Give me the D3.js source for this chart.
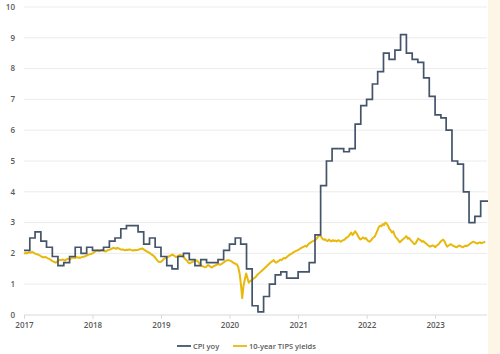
<!DOCTYPE html>
<html>
<head>
<meta charset="utf-8">
<script src="https://cdn.jsdelivr.net/npm/d3@7"></script>
<style>
  html, body { margin: 0; padding: 0; background: #ffffff; }
  svg { display: block; }
</style>
</head>
<body>
<svg id="chart" width="500" height="354"></svg>
<script>
// ---------- DATA ----------
const yTicks = [0, 1, 2, 3, 4, 5, 6, 7, 8, 9, 10];
const xTickYears = [2017, 2018, 2019, 2020, 2021, 2022, 2023];
const seriesNames = ["CPI yoy", "10-year TIPS yields"];

// CPI yoy, monthly reference months Dec 2016 .. Aug 2023
const cpiStart = "2016-12";
const cpiValues = [
  2.1,
  2.5, 2.7, 2.4, 2.2, 1.9, 1.6, 1.7, 1.9, 2.2, 2.0, 2.2, 2.1,
  2.1, 2.2, 2.4, 2.5, 2.8, 2.9, 2.9, 2.7, 2.3, 2.5, 2.2, 1.9,
  1.6, 1.5, 1.9, 2.0, 1.8, 1.6, 1.8, 1.7, 1.7, 1.8, 2.1, 2.3,
  2.5, 2.3, 1.5, 0.3, 0.1, 0.6, 1.0, 1.3, 1.4, 1.2, 1.2, 1.4,
  1.4, 1.7, 2.6, 4.2, 5.0, 5.4, 5.4, 5.3, 5.4, 6.2, 6.8, 7.0,
  7.5, 7.9, 8.5, 8.3, 8.6, 9.1, 8.5, 8.3, 8.2, 7.7, 7.1, 6.5,
  6.4, 6.0, 5.0, 4.9, 4.0, 3.0, 3.2, 3.7
];

// 10-year TIPS yields line, weekly readings starting 2017-01-02
const tipsStart = "2017-01-02";
const tipsValues = [
  // 2017
  1.98, 2.02, 2.00, 2.03,  2.04, 2.02, 2.05, 2.03,  2.00, 1.98, 1.97, 1.95, 1.93,
  1.90, 1.88, 1.87, 1.89,  1.86, 1.84, 1.82, 1.80,  1.76, 1.74, 1.72, 1.70,
  1.73, 1.77, 1.79, 1.78, 1.80,  1.79, 1.77, 1.80, 1.82,  1.83, 1.81, 1.85, 1.86,
  1.87, 1.85, 1.88, 1.86, 1.87,  1.86, 1.88, 1.89, 1.90,  1.92, 1.94, 1.96, 1.97, 1.98,
  // 2018
  2.00, 2.03, 2.06, 2.08,  2.10, 2.07, 2.09, 2.11,  2.10, 2.08, 2.06, 2.09, 2.11,
  2.12, 2.14, 2.16, 2.18,  2.17, 2.15, 2.18, 2.16,  2.14, 2.12, 2.13, 2.11,
  2.10, 2.12, 2.11, 2.13, 2.12,  2.10, 2.09, 2.11, 2.10,  2.11, 2.12, 2.14, 2.15,
  2.16, 2.13, 2.10, 2.07, 2.05,  2.03, 2.00, 1.96, 1.94,  1.90, 1.85, 1.79, 1.74, 1.72,
  // 2019
  1.72, 1.76, 1.80, 1.84,  1.86, 1.88, 1.90, 1.92,  1.94, 1.96, 1.93, 1.90, 1.88,
  1.91, 1.94, 1.95, 1.93,  1.90, 1.85, 1.80, 1.76,  1.70, 1.68, 1.70, 1.72,
  1.74, 1.76, 1.78, 1.75, 1.70,  1.64, 1.60, 1.58, 1.56,  1.55, 1.58, 1.62, 1.60,
  1.56, 1.54, 1.58, 1.60, 1.62,  1.64, 1.66, 1.63, 1.65,  1.68, 1.71, 1.74, 1.77, 1.78,
  // 2020
  1.78, 1.76, 1.74, 1.70,  1.68, 1.66, 1.64, 1.55,  1.35, 1.00, 0.55, 0.95, 1.15,
  1.35, 1.20, 1.05, 1.10,  1.12, 1.16, 1.20, 1.22,  1.28, 1.32, 1.36, 1.40,
  1.44, 1.48, 1.52, 1.56, 1.60,  1.64, 1.68, 1.72, 1.75,  1.78, 1.72, 1.70, 1.74,
  1.76, 1.80, 1.78, 1.83, 1.85,  1.84, 1.88, 1.92, 1.95,  1.98, 2.00, 2.04, 2.06, 2.08,
  // 2021
  2.10, 2.12, 2.15, 2.18,  2.20, 2.22, 2.25, 2.22,  2.28, 2.32, 2.35, 2.38, 2.40,
  2.42, 2.45, 2.50, 2.55,  2.60, 2.55, 2.48, 2.44,  2.46, 2.42, 2.40, 2.45,
  2.41, 2.39, 2.43, 2.40, 2.42,  2.39, 2.43, 2.41, 2.38,  2.41, 2.43, 2.45, 2.50,
  2.52, 2.56, 2.62, 2.68, 2.60,  2.65, 2.72, 2.66, 2.58,  2.50, 2.45, 2.48, 2.52, 2.48,
  // 2022
  2.50, 2.45, 2.40, 2.38,  2.42, 2.48, 2.52, 2.55,  2.65, 2.75, 2.85, 2.90, 2.88,
  2.95, 2.92, 3.00, 2.97,  2.90, 2.80, 2.75, 2.68,  2.72, 2.60, 2.52, 2.48,
  2.42, 2.36, 2.40, 2.44, 2.48,  2.52, 2.56, 2.48, 2.50,  2.45, 2.40, 2.35, 2.30,
  2.32, 2.40, 2.48, 2.45, 2.42,  2.38, 2.40, 2.35, 2.32,  2.28, 2.25, 2.22, 2.24, 2.26,
  // 2023
  2.24, 2.20, 2.25, 2.28,  2.32, 2.38, 2.42, 2.45,  2.40, 2.30, 2.22, 2.25, 2.28,
  2.30, 2.26, 2.24, 2.22,  2.20, 2.22, 2.26, 2.24,  2.22, 2.20, 2.23, 2.25,
  2.24, 2.26, 2.30, 2.33, 2.36,  2.38, 2.36, 2.34, 2.32,  2.34, 2.36, 2.33, 2.35,
  2.36, 2.38
];

// ---------- BUILD ----------
const parseMonth = d3.timeParse("%Y-%m");
const parseDay = d3.timeParse("%Y-%m-%d");

const cpiData = cpiValues.map((v, i) => ({
  date: d3.timeMonth.offset(parseMonth(cpiStart), i + 1),
  value: v
}));
const tipsData = tipsValues.map((v, i) => ({
  date: d3.timeDay.offset(parseDay(tipsStart), 7 * i),
  value: v
}));

const xStart = new Date(2017, 0, 1);
const xEnd = new Date(2023, 9, 10);

const svg = d3.select("#chart");

svg.append("rect").attr("x", 488).attr("y", 0).attr("width", 12).attr("height", 354)
  .attr("fill", "#fdf6e6");

const x = d3.scaleTime().domain([xStart, xEnd]).range([24, 488]);
const y = d3.scaleLinear().domain([0, 10]).range([315, 7]);

// gridlines
svg.append("g").selectAll("line").data(yTicks).join("line")
  .attr("x1", 24).attr("x2", 487)
  .attr("y1", d => y(d)).attr("y2", d => y(d))
  .attr("stroke", d => d === 0 ? "#d9d9d9" : "#ececec")
  .attr("stroke-width", 1);

// y labels
svg.append("g").selectAll("text").data(yTicks).join("text")
  .attr("x", 15).attr("y", d => y(d))
  .attr("dy", "0.35em")
  .attr("text-anchor", "end")
  .attr("font-family", "'Open Sans', 'Liberation Sans', sans-serif")
  .attr("font-size", 8)
  .attr("font-weight", 600)
  .attr("fill", "#595959")
  .text(d => d);

// x axis ticks & labels
const xTicks = xTickYears.map(yr => new Date(yr, 0, 1));
const xAxis = d3.axisBottom(x).tickValues(xTicks).tickSize(4).tickPadding(3)
  .tickFormat(d3.timeFormat("%Y"));
const gx = svg.append("g").attr("transform", "translate(0,315)").call(xAxis);
gx.select(".domain").remove();
gx.selectAll(".tick line").attr("stroke", "#d9d9d9");
gx.selectAll(".tick text")
  .attr("font-family", "'Open Sans', 'Liberation Sans', sans-serif")
  .attr("font-size", 8)
  .attr("font-weight", 600)
  .attr("fill", "#595959");

// lines
const cpiColor = "#44546a";
const tipsColor = "#e8b90c";

const cpiLine = d3.line().x(d => x(d.date)).y(d => y(d.value)).curve(d3.curveStepAfter);
const cpiPlot = cpiData.concat([{ date: xEnd, value: cpiData[cpiData.length - 1].value }])
  .filter(d => d.date <= xEnd);

const tipsLine = d3.line().x(d => x(d.date)).y(d => y(d.value)).curve(d3.curveLinear);

svg.append("path").datum(tipsData.filter(d => d.date <= xEnd))
  .attr("d", tipsLine)
  .attr("fill", "none")
  .attr("stroke", tipsColor)
  .attr("stroke-width", 2)
  .attr("stroke-linejoin", "round");

svg.append("path").datum(cpiPlot)
  .attr("d", cpiLine)
  .attr("fill", "none")
  .attr("stroke", cpiColor)
  .attr("stroke-width", 1.7);

// legend
const legend = svg.append("g").attr("transform", "translate(0,346)");
const legendItems = [
  { name: seriesNames[0], color: cpiColor, x: 177 },
  { name: seriesNames[1], color: tipsColor, x: 233 }
];
legendItems.forEach(it => {
  legend.append("line").attr("x1", it.x).attr("x2", it.x + 14).attr("y1", 0).attr("y2", 0)
    .attr("stroke", it.color).attr("stroke-width", 1.8);
  legend.append("text").attr("x", it.x + 16).attr("y", 0).attr("dy", "0.35em")
    .attr("font-family", "'Open Sans', 'Liberation Sans', sans-serif")
    .attr("font-size", 7.5)
    .attr("font-weight", 600)
    .attr("fill", "#595959")
    .text(it.name);
});
</script>
</body>
</html>
